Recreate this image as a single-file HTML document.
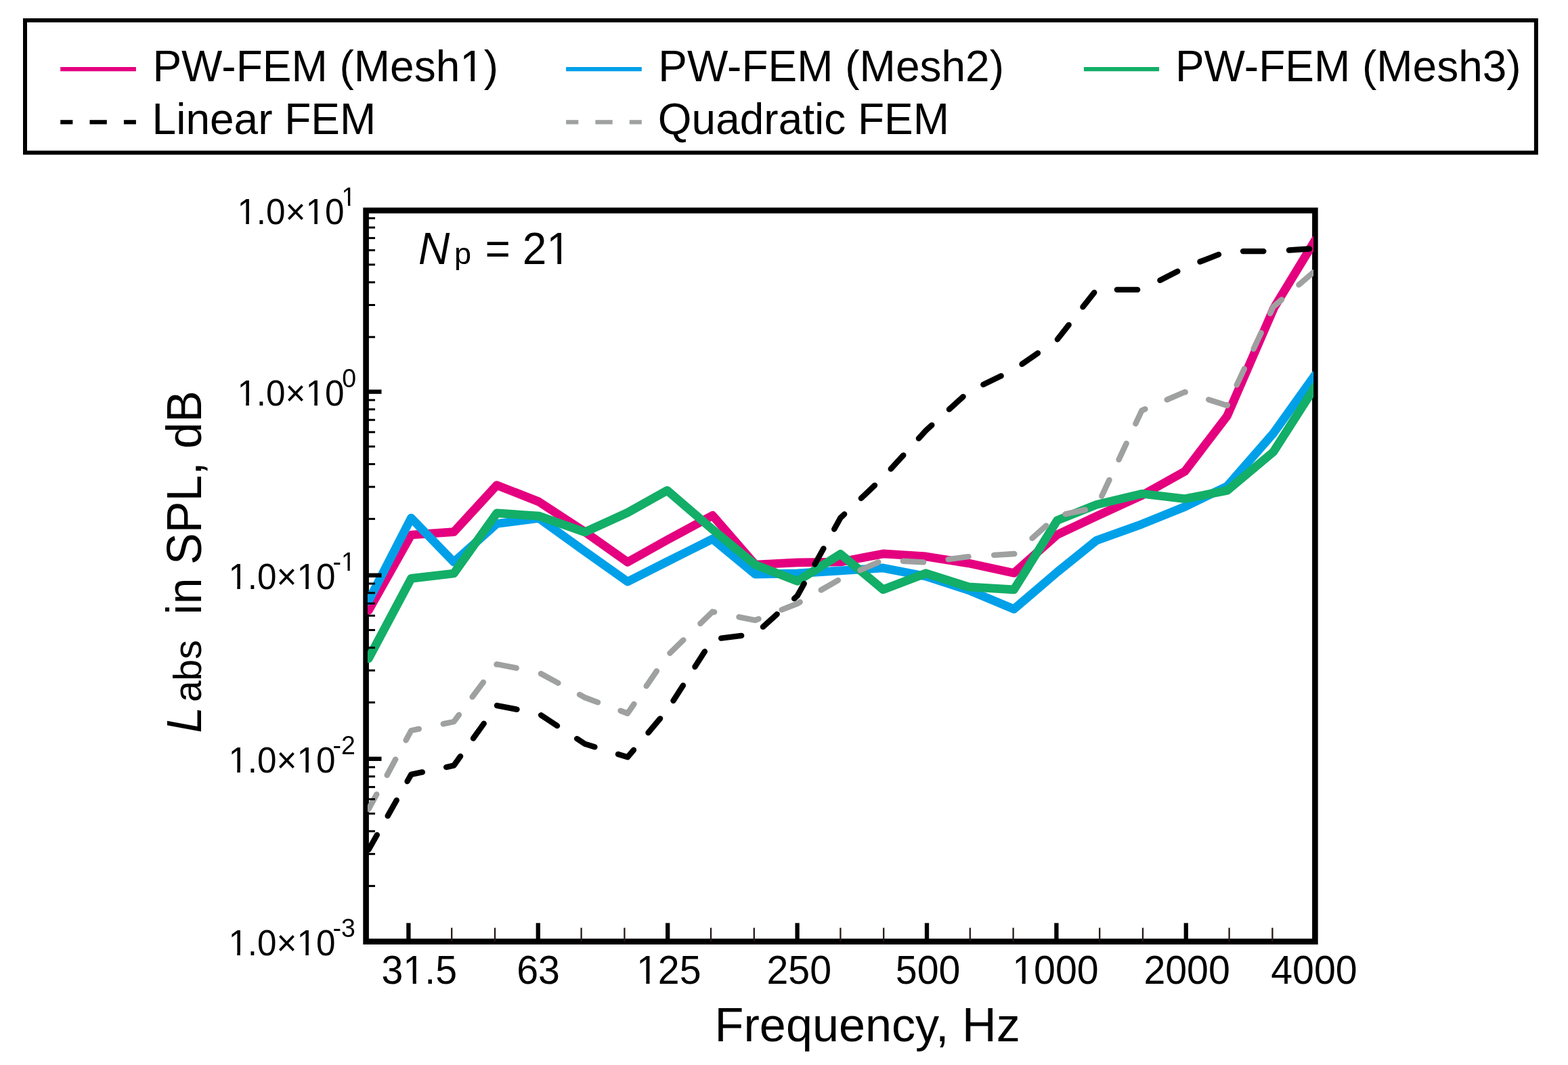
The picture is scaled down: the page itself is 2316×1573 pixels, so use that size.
<!DOCTYPE html>
<html lang="en"><head><meta charset="utf-8">
<title>Labs in SPL vs Frequency (Np = 21)</title>
<style>
html,body{margin:0;padding:0;background:#fff;}
body{width:2316px;height:1573px;overflow:hidden;}
svg{display:block;}
text{font-family:"Liberation Sans", Arial, Helvetica, sans-serif;fill:#000;}
.it{font-style:italic;}
</style></head><body>
<svg width="2316" height="1573" viewBox="0 0 2316 1573">
<rect x="0" y="0" width="2316" height="1573" fill="#ffffff"/>
<defs><clipPath id="plotclip"><rect x="542.9" y="310.9" width="1397.2" height="1079.8"/></clipPath></defs>
<g id="legend">
<rect x="37" y="30.05" width="2231.9" height="195.45" fill="none" stroke="#000" stroke-width="6"/>
<line x1="89.2" y1="102.2" x2="200.9" y2="102.2" stroke="#E4007F" stroke-width="6.3"/>
<line x1="836.1" y1="102.2" x2="947.8" y2="102.2" stroke="#00A0E9" stroke-width="6.3"/>
<line x1="1600.9" y1="102.2" x2="1712.1" y2="102.2" stroke="#13AE67" stroke-width="6.3"/>
<line x1="89.2" y1="180.35" x2="107.4" y2="180.35" stroke="#000000" stroke-width="6.3"/>
<line x1="132.5" y1="180.35" x2="157.8" y2="180.35" stroke="#000000" stroke-width="6.3"/>
<line x1="182.9" y1="180.35" x2="200.9" y2="180.35" stroke="#000000" stroke-width="6.3"/>
<line x1="836.1" y1="180.35" x2="854.3" y2="180.35" stroke="#9FA0A0" stroke-width="6.3"/>
<line x1="879.4" y1="180.35" x2="904.7" y2="180.35" stroke="#9FA0A0" stroke-width="6.3"/>
<line x1="929.8" y1="180.35" x2="947.8" y2="180.35" stroke="#9FA0A0" stroke-width="6.3"/>
<text transform="translate(225.4,119.8) scale(1,1.025)" font-size="64">PW-FEM (Mesh1)</text>
<text transform="translate(972.2,119.8) scale(1,1.025)" font-size="64">PW-FEM (Mesh2)</text>
<text transform="translate(1735.9,119.8) scale(1,1.025)" font-size="64">PW-FEM (Mesh3)</text>
<text transform="translate(224.6,197.9) scale(1,1.025)" font-size="64">Linear FEM</text>
<text transform="translate(971.8,197.9) scale(1,1.025)" font-size="64">Quadratic FEM</text>
</g>
<g id="plot">
<rect x="540.6" y="310.9" width="1401.8" height="1079.8" fill="none" stroke="#000" stroke-width="8.6"/>
<g clip-path="url(#plotclip)" fill="none" stroke-linejoin="round" stroke-linecap="round">
<polyline points="544.5,901.5 607.3,790 670.3,785.7 733.8,716.6 795.8,741 863.9,785.6 927,830.3 985.5,797.5 1052.5,761.3 1115.5,834 1177.8,830.8 1241.4,830 1304.5,817.9 1367.6,821.9 1430.7,831.9 1497.6,846.4 1561.5,789.8 1619.5,762.5 1686.5,731.8 1750,696.3 1812.5,614.5 1881.8,454.5 1942.5,354.7" stroke="#E4007F" stroke-width="12.7"/>
<polyline points="544.5,887.4 607.3,765.1 670.3,830.2 733.8,773.5 795.8,765.4 863.9,814.4 927,859.1 985.5,829.5 1052.5,796 1115.5,848.1 1177.8,846.8 1241.4,842.8 1304.5,838.9 1367.6,851.3 1430.7,871.6 1497.6,899.6 1561.5,845 1619.5,798.3 1686.5,774.2 1750,748.5 1812.5,718.1 1880.8,640 1942.5,553.8" stroke="#00A0E9" stroke-width="12.7"/>
<polyline points="544.5,972.6 607.3,854.4 670.3,847 733.8,757.9 795.8,762.1 863.9,785.9 927,757.1 985.5,724.4 1052.5,782 1115.5,834.2 1177.8,858.3 1241.4,818.3 1304.5,870.8 1367.6,846.7 1430.7,866.9 1497.6,870.8 1561.5,768.7 1619.5,745.4 1686.5,729.3 1750,736.8 1812.5,724.6 1880.8,667.5 1942.5,571.1" stroke="#13AE67" stroke-width="12.7"/>
<path d="M544.5 1195 L556.29 1173.23 M571.61 1144.92 L584.23 1121.62 M599.6 1093.22 L607.3 1079 L618.77 1076.63 M654.74 1069.21 L670.3 1066 L677.93 1055.79 M697.66 1029.37 L713.85 1007.7 M733.49 981.41 L733.8 981 L762.74 986.74 M798.97 995.02 L824.48 1008.84 M856 1025.92 L863.9 1030.2 L883.04 1037.33 M916.52 1049.8 L927 1053.7 L936.47 1039.91 M954.7 1013.36 L969.92 991.19 M989.44 964.68 L1009.36 945.36 M1034.4 921.06 L1052.5 903.5 L1055.19 904.04 M1091.47 911.29 L1115.5 916.1 L1120.58 914.09 M1154.61 900.66 L1177.8 891.5 L1181.7 889.27 M1212.75 871.49 L1237.85 857.13 M1270.53 842.22 L1297.39 830.34 M1333.8 828.78 L1364.04 830.41 M1400.63 826.15 L1430.55 822.12 M1468.14 819.85 L1498.36 818.03 M1524.48 795.02 L1545.3 776.4 M1573.56 759.3 L1602.93 752.97 M1627.31 732.71 L1638.47 708.88 M1652.53 678.85 L1663.69 655.02 M1677.37 625.8 L1686.5 606.3 L1691.41 604.19 M1723.64 590.33 L1750 579 L1750.68 579.22 M1785.13 590.18 L1812.5 598.9 L1812.89 598.07 M1826.72 568.53 L1837.87 544.7 M1851.59 515.39 L1862.75 491.56 M1876.09 463.06 L1880.8 453 L1893.08 442.45 M1918.44 420.67 L1939.7 402.4" stroke="#9FA0A0" stroke-width="8.4"/>
<path d="M544.5 1255 L556.81 1233.22 M572.69 1205.13 L585.76 1182.01 M601.59 1154.01 L607.3 1143.9 L623.86 1140.43 M659.2 1133.03 L670.3 1130.7 L680.07 1117.05 M699.05 1090.53 L714.75 1068.61 M733.99 1042.04 L763.51 1047.8 M799.06 1056.24 L823 1071.95 M852.16 1091.09 L863.9 1098.8 L878.4 1103.28 M912.99 1113.97 L927 1118.3 L935.94 1107.71 M957.48 1082.19 L975.09 1061.33 M994.48 1034.95 L1008.9 1012.41 M1026.51 984.85 L1040.92 962.31 M1065.17 942.61 L1095.14 938.85 M1127.02 925.87 L1147.71 907.14 M1173.13 884.13 L1177.8 879.9 L1187.74 861.92 M1203.51 833.42 L1216.35 810.2 M1232.23 781.48 L1241.4 764.9 L1247.17 759.43 M1271.88 735.97 L1292.03 716.83 M1315.76 692.66 L1334.29 672.38 M1356.92 647.59 L1367.6 635.9 L1376.34 627.95 M1401.96 604.64 L1422.6 585.87 M1452.33 568.02 L1478.63 555.29 M1509.55 537.8 L1532.97 521.53 M1561.84 501.26 L1578.62 479.92 M1599.45 453.41 L1616.22 432.07 M1649.86 427.9 L1680.16 427.9 M1713.42 414.04 L1739.3 400.71 M1772.47 386.54 L1800.04 375.91 M1836.03 371.1 L1866.33 371.1 M1903.97 369.56 L1934.17 367.55" stroke="#000000" stroke-width="8.4"/>
</g>
<g stroke="#000" fill="none">
<line x1="540.6" y1="578.6" x2="563.5" y2="578.6" stroke-width="6.3"/>
<line x1="540.6" y1="849.7" x2="563.5" y2="849.7" stroke-width="6.3"/>
<line x1="540.6" y1="1120.8" x2="563.5" y2="1120.8" stroke-width="6.3"/>
<line x1="540.6" y1="322.3" x2="554" y2="322.3" stroke-width="3"/>
<line x1="540.6" y1="336.04" x2="554" y2="336.04" stroke-width="3"/>
<line x1="540.6" y1="351.62" x2="554" y2="351.62" stroke-width="3"/>
<line x1="540.6" y1="369.61" x2="554" y2="369.61" stroke-width="3"/>
<line x1="540.6" y1="390.89" x2="554" y2="390.89" stroke-width="3"/>
<line x1="540.6" y1="416.93" x2="554" y2="416.93" stroke-width="3"/>
<line x1="540.6" y1="450.5" x2="554" y2="450.5" stroke-width="3"/>
<line x1="540.6" y1="497.81" x2="554" y2="497.81" stroke-width="3"/>
<line x1="540.6" y1="590.9" x2="554" y2="590.9" stroke-width="3"/>
<line x1="540.6" y1="604.64" x2="554" y2="604.64" stroke-width="3"/>
<line x1="540.6" y1="620.22" x2="554" y2="620.22" stroke-width="3"/>
<line x1="540.6" y1="638.21" x2="554" y2="638.21" stroke-width="3"/>
<line x1="540.6" y1="659.49" x2="554" y2="659.49" stroke-width="3"/>
<line x1="540.6" y1="685.53" x2="554" y2="685.53" stroke-width="3"/>
<line x1="540.6" y1="719.1" x2="554" y2="719.1" stroke-width="3"/>
<line x1="540.6" y1="766.41" x2="554" y2="766.41" stroke-width="3"/>
<line x1="540.6" y1="862" x2="554" y2="862" stroke-width="3"/>
<line x1="540.6" y1="875.74" x2="554" y2="875.74" stroke-width="3"/>
<line x1="540.6" y1="891.32" x2="554" y2="891.32" stroke-width="3"/>
<line x1="540.6" y1="909.31" x2="554" y2="909.31" stroke-width="3"/>
<line x1="540.6" y1="930.59" x2="554" y2="930.59" stroke-width="3"/>
<line x1="540.6" y1="956.63" x2="554" y2="956.63" stroke-width="3"/>
<line x1="540.6" y1="990.2" x2="554" y2="990.2" stroke-width="3"/>
<line x1="540.6" y1="1037.51" x2="554" y2="1037.51" stroke-width="3"/>
<line x1="540.6" y1="1133.1" x2="554" y2="1133.1" stroke-width="3"/>
<line x1="540.6" y1="1146.84" x2="554" y2="1146.84" stroke-width="3"/>
<line x1="540.6" y1="1162.42" x2="554" y2="1162.42" stroke-width="3"/>
<line x1="540.6" y1="1180.41" x2="554" y2="1180.41" stroke-width="3"/>
<line x1="540.6" y1="1201.69" x2="554" y2="1201.69" stroke-width="3"/>
<line x1="540.6" y1="1227.73" x2="554" y2="1227.73" stroke-width="3"/>
<line x1="540.6" y1="1261.3" x2="554" y2="1261.3" stroke-width="3"/>
<line x1="540.6" y1="1308.61" x2="554" y2="1308.61" stroke-width="3"/>
<line x1="603.4" y1="1390.7" x2="603.4" y2="1363.3" stroke-width="6.3"/>
<line x1="667.2" y1="1390.7" x2="667.2" y2="1370.4" stroke-width="2.3" stroke="#231815"/>
<line x1="731" y1="1390.7" x2="731" y2="1370.4" stroke-width="2.3" stroke="#231815"/>
<line x1="794.8" y1="1390.7" x2="794.8" y2="1363.3" stroke-width="6.3"/>
<line x1="858.6" y1="1390.7" x2="858.6" y2="1370.4" stroke-width="2.3" stroke="#231815"/>
<line x1="922.4" y1="1390.7" x2="922.4" y2="1370.4" stroke-width="2.3" stroke="#231815"/>
<line x1="986.2" y1="1390.7" x2="986.2" y2="1363.3" stroke-width="6.3"/>
<line x1="1050" y1="1390.7" x2="1050" y2="1370.4" stroke-width="2.3" stroke="#231815"/>
<line x1="1113.8" y1="1390.7" x2="1113.8" y2="1370.4" stroke-width="2.3" stroke="#231815"/>
<line x1="1177.6" y1="1390.7" x2="1177.6" y2="1363.3" stroke-width="6.3"/>
<line x1="1241.4" y1="1390.7" x2="1241.4" y2="1370.4" stroke-width="2.3" stroke="#231815"/>
<line x1="1305.2" y1="1390.7" x2="1305.2" y2="1370.4" stroke-width="2.3" stroke="#231815"/>
<line x1="1369" y1="1390.7" x2="1369" y2="1363.3" stroke-width="6.3"/>
<line x1="1432.8" y1="1390.7" x2="1432.8" y2="1370.4" stroke-width="2.3" stroke="#231815"/>
<line x1="1496.6" y1="1390.7" x2="1496.6" y2="1370.4" stroke-width="2.3" stroke="#231815"/>
<line x1="1560.4" y1="1390.7" x2="1560.4" y2="1363.3" stroke-width="6.3"/>
<line x1="1624.2" y1="1390.7" x2="1624.2" y2="1370.4" stroke-width="2.3" stroke="#231815"/>
<line x1="1688" y1="1390.7" x2="1688" y2="1370.4" stroke-width="2.3" stroke="#231815"/>
<line x1="1751.8" y1="1390.7" x2="1751.8" y2="1363.3" stroke-width="6.3"/>
<line x1="1815.6" y1="1390.7" x2="1815.6" y2="1370.4" stroke-width="2.3" stroke="#231815"/>
<line x1="1879.4" y1="1390.7" x2="1879.4" y2="1370.4" stroke-width="2.3" stroke="#231815"/>
</g>
</g>
<g id="ylabels">
<text transform="translate(350.4,330.8) scale(1,1.04)" font-size="51.2">1.0×10</text>
<text transform="translate(504.6,304) scale(1,1.04)" font-size="37.5">1</text>
<text transform="translate(350.4,598.7) scale(1,1.04)" font-size="51.2">1.0×10</text>
<text transform="translate(505.3,571.9) scale(1,1.04)" font-size="37.5">0</text>
<text transform="translate(337.4,870) scale(1,1.04)" font-size="51.2">1.0×10</text>
<text transform="translate(491.5,843.2) scale(1,1.04)" font-size="37.5">-1</text>
<text transform="translate(337.4,1140.9) scale(1,1.04)" font-size="51.2">1.0×10</text>
<text transform="translate(491.5,1114.1) scale(1,1.04)" font-size="37.5">-2</text>
<text transform="translate(337.4,1410.9) scale(1,1.04)" font-size="51.2">1.0×10</text>
<text transform="translate(491.5,1384.1) scale(1,1.04)" font-size="37.5">-3</text>
</g>
<g id="xlabels">
<text transform="translate(563.5,1453) scale(1,1.04)" font-size="57.3">31.5</text>
<text transform="translate(763.2,1453) scale(1,1.04)" font-size="57.3">63</text>
<text transform="translate(940,1453) scale(1,1.04)" font-size="57.3">125</text>
<text transform="translate(1132.5,1453) scale(1,1.04)" font-size="57.3">250</text>
<text transform="translate(1322.8,1453) scale(1,1.04)" font-size="57.3">500</text>
<text transform="translate(1495.2,1453) scale(1,1.04)" font-size="57.3">1000</text>
<text transform="translate(1689.4,1453) scale(1,1.04)" font-size="57.3">2000</text>
<text transform="translate(1877.2,1453) scale(1,1.04)" font-size="57.3">4000</text>
</g>
<text x="1055.6" y="1537.8" font-size="70.2">Frequency, Hz</text>
<g transform="translate(296.9,0) rotate(-90)">
<text class="it" transform="translate(-1082.8,0) scale(1,1.04)" font-size="70">L</text>
<text x="-1037.1" y="0" font-size="57">abs</text>
<text transform="translate(-907.9,0) scale(1,1.025)" font-size="70">in SPL, dB</text>
</g>
<text class="it" transform="translate(618,389.8) scale(1,1.04)" font-size="64">N</text>
<text x="671" y="389.8" font-size="45">p</text>
<text transform="translate(716.5,389.8) scale(1,1.04)" font-size="64">= 21</text>
<g id="serif-masks" fill="#ffffff">
<rect x="683.34" y="113.9" width="12.02" height="6.7"/>
<rect x="701.02" y="113.9" width="11.52" height="6.7"/>
<rect x="353.5" y="325.82" width="9.78" height="5.78"/>
<rect x="367.8" y="325.82" width="9.38" height="5.78"/>
<rect x="454.54" y="325.82" width="9.78" height="5.78"/>
<rect x="468.84" y="325.82" width="9.38" height="5.78"/>
<rect x="506.66" y="300.09" width="7.37" height="4.71"/>
<rect x="517.34" y="300.09" width="7.08" height="4.71"/>
<rect x="353.5" y="593.72" width="9.78" height="5.78"/>
<rect x="367.8" y="593.72" width="9.38" height="5.78"/>
<rect x="454.54" y="593.72" width="9.78" height="5.78"/>
<rect x="468.84" y="593.72" width="9.38" height="5.78"/>
<rect x="340.5" y="865.02" width="9.78" height="5.78"/>
<rect x="354.8" y="865.02" width="9.38" height="5.78"/>
<rect x="441.54" y="865.02" width="9.78" height="5.78"/>
<rect x="455.84" y="865.02" width="9.38" height="5.78"/>
<rect x="506.04" y="839.29" width="7.37" height="4.71"/>
<rect x="516.73" y="839.29" width="7.08" height="4.71"/>
<rect x="340.5" y="1135.92" width="9.78" height="5.78"/>
<rect x="354.8" y="1135.92" width="9.38" height="5.78"/>
<rect x="441.54" y="1135.92" width="9.78" height="5.78"/>
<rect x="455.84" y="1135.92" width="9.38" height="5.78"/>
<rect x="340.5" y="1405.92" width="9.78" height="5.78"/>
<rect x="354.8" y="1405.92" width="9.38" height="5.78"/>
<rect x="441.54" y="1405.92" width="9.78" height="5.78"/>
<rect x="455.84" y="1405.92" width="9.38" height="5.78"/>
<rect x="598.92" y="1447.55" width="10.84" height="6.25"/>
<rect x="614.83" y="1447.55" width="10.4" height="6.25"/>
<rect x="943.56" y="1447.55" width="10.84" height="6.25"/>
<rect x="959.47" y="1447.55" width="10.4" height="6.25"/>
<rect x="1498.76" y="1447.55" width="10.84" height="6.25"/>
<rect x="1514.67" y="1447.55" width="10.4" height="6.25"/>
<rect x="811.31" y="383.83" width="12.02" height="6.77"/>
<rect x="828.98" y="383.83" width="11.52" height="6.77"/>
</g>
</svg>
</body></html>
